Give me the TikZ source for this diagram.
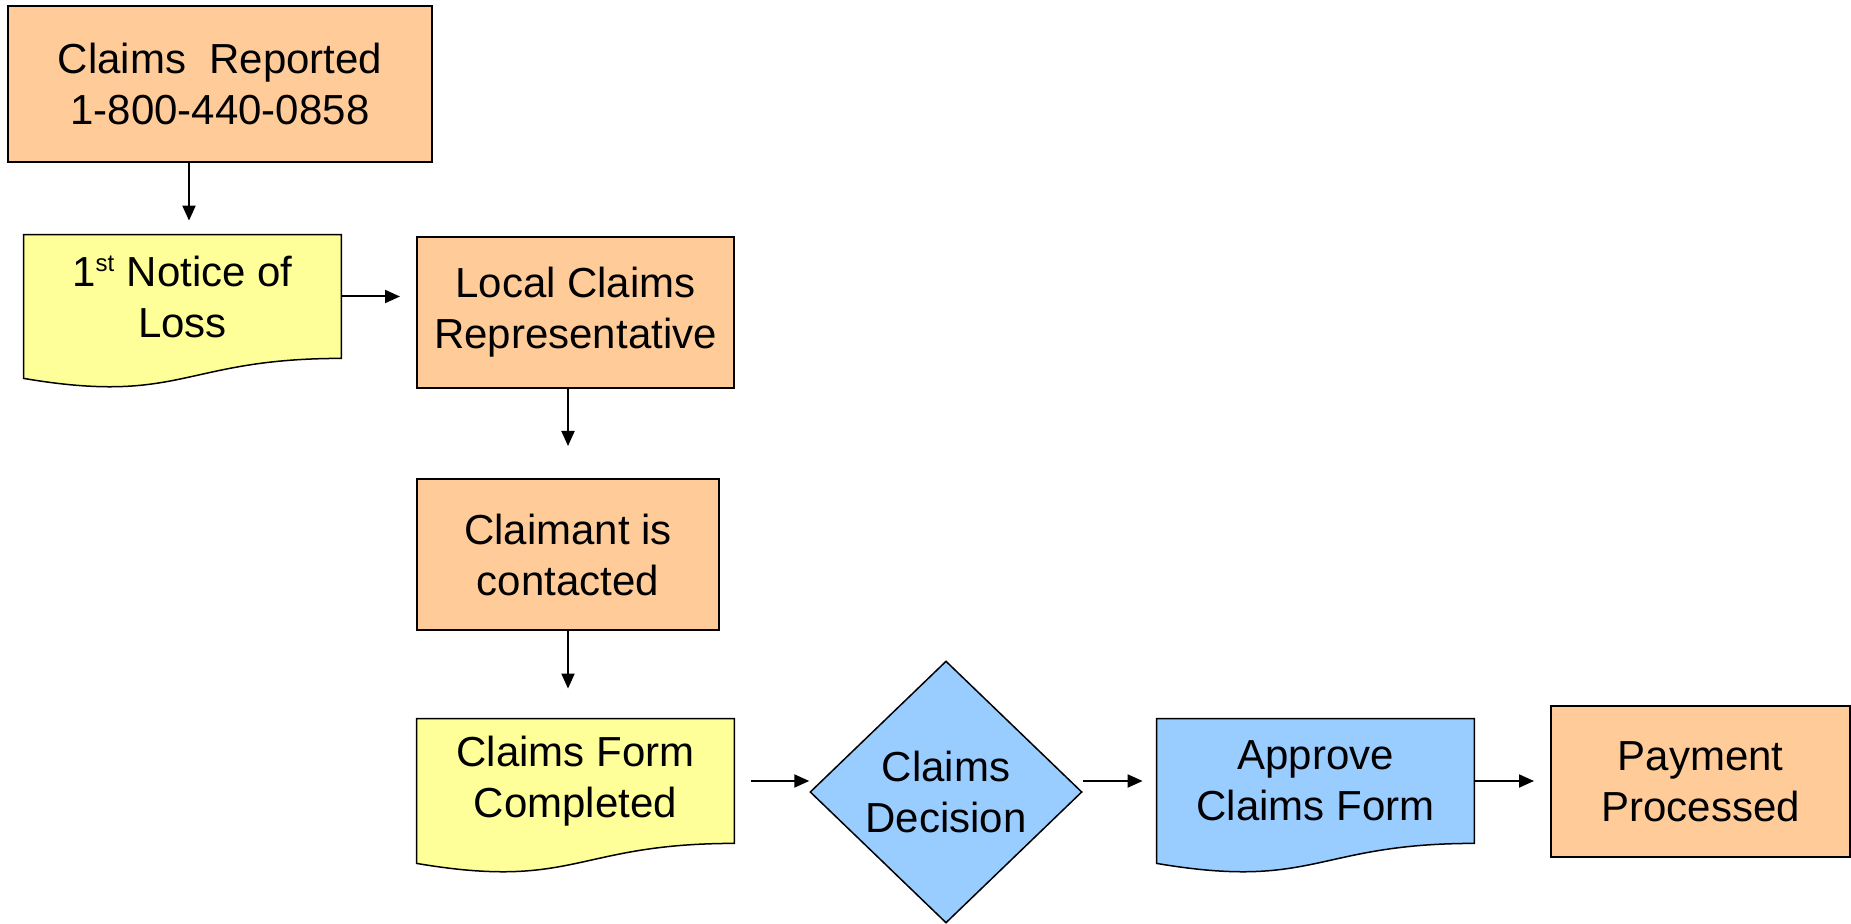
\documentclass[tikz,border=0pt]{standalone}
\usepackage{fontspec}
\setmainfont{Liberation Sans}
\usepackage{tikz}
\usetikzlibrary{shapes.geometric,arrows.meta,backgrounds}

\definecolor{peach}{HTML}{FFCC99}
\definecolor{paleyellow}{HTML}{FFFF99}
\definecolor{skyblue}{HTML}{99CCFF}

%Wavy bottom of a document node (#1 = node name, #2 = fill)
\newcommand{\docwave}[2]{
\begin{scope}[on background layer]
\draw[fill=#2, line width=0.75pt] (#1.north west) -- (#1.north east) -- (#1.south east)
  .. controls (#1.south) and ([yshift=-23.5pt]#1.south) .. ([yshift=-10pt]#1.south west) -- cycle;
\end{scope}
}

\begin{document}
\begin{tikzpicture}
  [
    x=0.5pt, y=-0.5pt,
    >={Triangle[length=7.5pt,width=6.5pt]},
    txt/.style     = {align=center, inner sep=0pt, font=\fontsize{21}{25.5}\selectfont},
    process/.style = {txt, draw, line width=1pt, fill=peach, rectangle},
    docbox/.style  = {txt, rectangle},
    decide/.style  = {txt, draw, line width=0.75pt, fill=skyblue, diamond, aspect=1.04},
    arr/.style     = {->, line width=1pt},
  ]

%Frame of the whole picture
\useasboundingbox (0,0) rectangle (1851,924);

%Widths and heights of the boxes
\def \wproc{158.5pt}
\def \hproc{75.5pt}
\def \hdoc{61.5pt}

%Top left column
\node[process, minimum width=212pt, minimum height=78pt] (report) at (220,84)
  {Claims\ \ Reported\\1-800-440-0858};
\node[docbox, minimum width=\wproc, minimum height=\hdoc] (notice) at (182.5,296.5)
  {1\textsuperscript{\fontsize{12}{12}\selectfont st} Notice of\\Loss};

%Middle column
\node[process, minimum width=\wproc, minimum height=\hproc] (local) at (575.5,312.5)
  {Local Claims\\Representative};
\node[process, minimum width=151pt, minimum height=\hproc] (contact) at (568,554.5)
  {Claimant is\\contacted};

%Bottom row
\node[docbox, minimum width=\wproc, minimum height=62pt] (form) at (575.5,781)
  {Claims Form\\Completed};
\node[decide, minimum width=136pt, minimum height=131pt] (decision) at (946,792)
  {Claims\\Decision};
\node[docbox, minimum width=\wproc, minimum height=62pt] (approve) at (1315.5,781)
  {Approve\\Claims Form};
\node[process, minimum width=149.5pt, minimum height=\hproc] (payment) at (1700.5,781.5)
  {Payment\\Processed};

%Document outlines
\docwave{notice}{paleyellow}
\docwave{form}{paleyellow}
\docwave{approve}{skyblue}

%Arrows
\draw[arr, shorten >=7pt] ([xshift=-15.5pt]report.south) -- ([xshift=3.25pt]notice.north);
\draw[arr, shorten >=8pt] (notice.east) -- (notice.east -| local.west);
\draw[arr, shorten >=16pt] (local.south -| contact.north) -- (contact.north);
\draw[arr, shorten >=15pt] (contact.south) -- (contact.south |- form.north);
\draw[arr, shorten <=8.5pt] (form.east) -- (form.east -| decision.west);
\draw[arr, shorten >=7pt] (approve.west -| decision.east) -- (approve.west);
\draw[arr, shorten >=8pt] (approve.east) -- (approve.east -| payment.west);
\end{tikzpicture}
\end{document}
